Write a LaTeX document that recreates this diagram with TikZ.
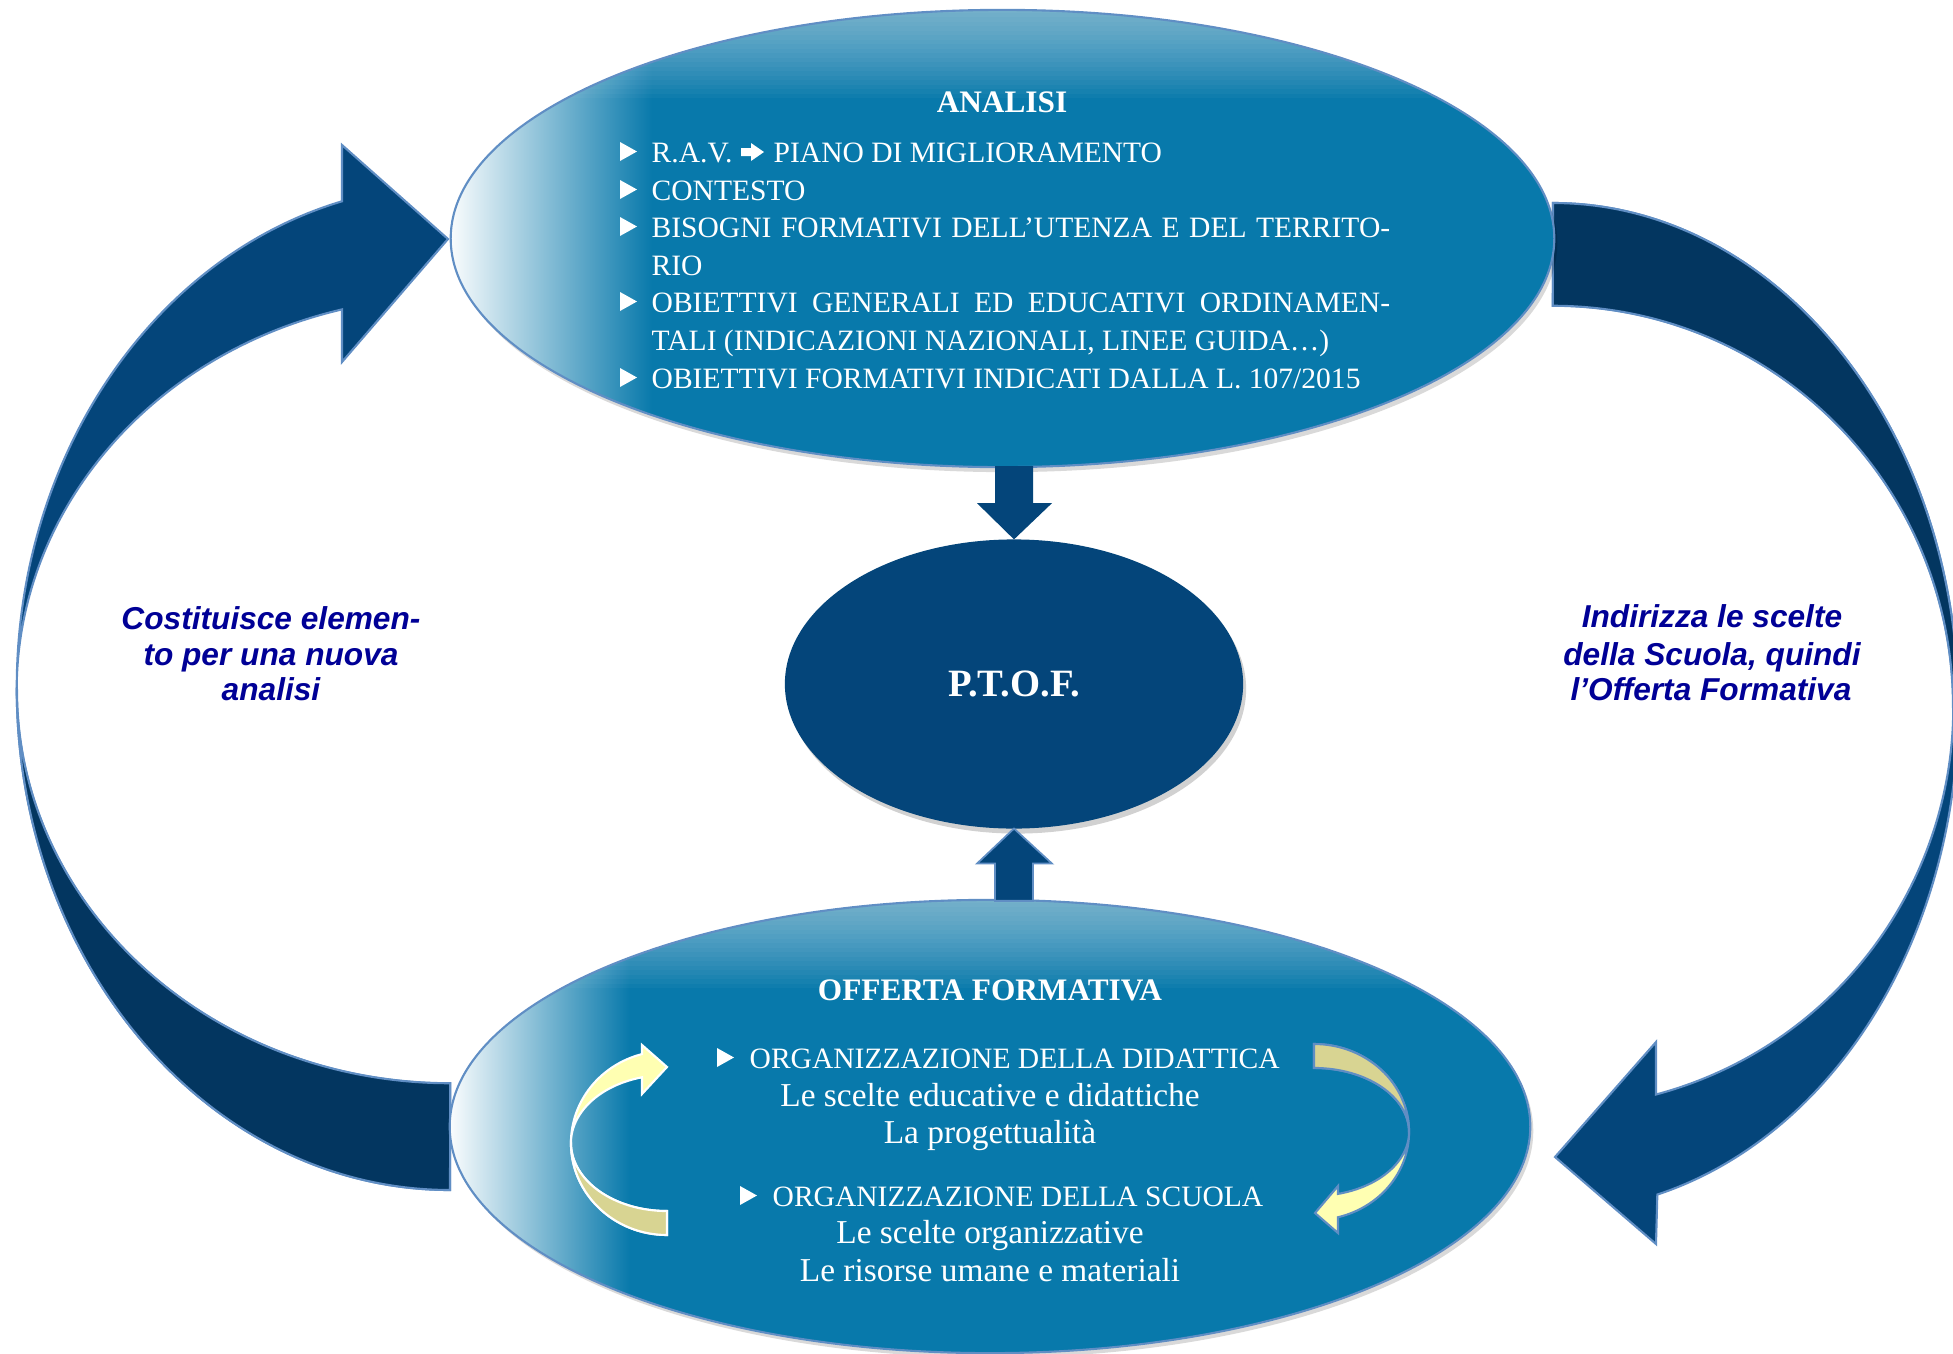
\documentclass[tikz,border=0pt]{standalone}
\usepackage{fontspec}
\setmainfont{Liberation Serif}
\newfontfamily\lblfont{Liberation Sans}
\usetikzlibrary{shapes.geometric,calc}

\definecolor{ellblue}{RGB}{8,121,171}
\definecolor{navy}{RGB}{4,69,122}
\definecolor{navydark}{RGB}{3,54,96}
\definecolor{edgeblue}{RGB}{96,142,196}
\definecolor{lblblue}{RGB}{0,0,150}
\definecolor{ylight}{RGB}{255,255,178}
\definecolor{khaki}{RGB}{216,212,146}

\newcommand\bultri[2]{\fill[white] (#1,#2-20) -- (#1+17,#2-10.5) -- (#1,#2-1) -- cycle;}

\begin{document}
\begin{tikzpicture}[x=0.01cm,y=-0.01cm,
  ell/.style={ellipse, inner sep=0pt, outer sep=0pt},
  edge/.style={draw=edgeblue, line width=0.6pt},
  txt/.style={text=white, inner sep=0pt, font=\fontsize{8.4}{10}\selectfont},
  ttl/.style={text=white, inner sep=0pt, font=\bfseries\fontsize{8.9}{10}\selectfont},
  low/.style={text=white, inner sep=0pt, font=\fontsize{9.5}{11}\selectfont},
  lbl/.style={text=lblblue, inner sep=0pt, font=\lblfont\bfseries\itshape\fontsize{9}{10}\selectfont}]

\useasboundingbox (0,0) rectangle (1953,1354);
% dummy shading (invisible, white on white)
\shade[top color=white, bottom color=white] (0,0) rectangle (2,2);

% ---- big left curved arrow
\filldraw[fill=navy, edge] (450,1190) arc[start angle=-90, end angle=-255.56, x radius=4.33cm, y radius=5.02cm]
  -- (342,145) -- (448,239) -- (342,362) -- (342,309.4)
  arc[start angle=-255.56, end angle=-90, x radius=4.33cm, y radius=3.93cm] -- cycle;
\filldraw[fill=navydark, edge] (450,1190) arc[start angle=-90, end angle=-180, x radius=4.33cm, y radius=5.02cm]
  -- (17,690) arc[start angle=-180, end angle=-90, x radius=4.33cm, y radius=3.93cm] -- cycle;

% ---- big right curved arrow
\filldraw[fill=navy, edge] (1553,203) arc[start angle=90, end angle=-75.08, x radius=4.05cm, y radius=5.04cm]
  -- (1656,1244) -- (1555,1157) -- (1656,1042) -- (1656,1094.5)
  arc[start angle=-75.08, end angle=90, x radius=4cm, y radius=4.01cm] -- cycle;
\filldraw[fill=navydark, edge] (1553,203) arc[start angle=90, end angle=0, x radius=4.05cm, y radius=5.04cm]
  -- (1953,707) arc[start angle=0, end angle=90, x radius=4cm, y radius=4.01cm] -- cycle;

% ---- shadows
\fill[black, opacity=.15] (1005.5,243.5) ellipse [x radius=5.515cm, y radius=2.285cm];
\fill[black, opacity=.18] (1017,689) ellipse [x radius=2.29cm, y radius=1.445cm];
\fill[black, opacity=.15] (993,1131) ellipse [x radius=5.40cm, y radius=2.265cm];

% ---- ellipses
\node[ell, minimum width=11.03cm, minimum height=4.57cm, fill=ellblue] (analisi) at (1002.5,238.5) {};
\begin{scope}
  \clip (analisi.center) ellipse [x radius=5.515cm, y radius=2.285cm];
  \shade[left color=white, right color=ellblue] (446,0) rectangle (652,480);
  \foreach \i in {1,...,20} {\fill[white, opacity=.03] (440,8) rectangle (1570,8+4.5*\i);}
\end{scope}
\draw[edge] (analisi.center) ellipse [x radius=5.515cm, y radius=2.285cm];

\node[ell, minimum width=4.58cm, minimum height=2.89cm, fill=navy, text=white,
      font=\bfseries\fontsize{11}{13}\selectfont] (ptof) at (1014,684) {P.T.O.F.};

\node[ell, minimum width=10.8cm, minimum height=4.53cm, fill=ellblue] (offerta) at (990,1126.5) {};
\begin{scope}
  \clip (offerta.center) ellipse [x radius=5.4cm, y radius=2.265cm];
  \shade[left color=white, right color=ellblue] (446,890) rectangle (630,1360);
  \foreach \i in {1,...,20} {\fill[white, opacity=.03] (440,898) rectangle (1540,898+4.5*\i);}
\end{scope}
\draw[edge] (offerta.center) ellipse [x radius=5.4cm, y radius=2.265cm];

% ---- straight block arrows
\coordinate (dtop) at (ptof.north |- analisi.south);
\fill[navy] ($(dtop)+(-19,-1)$) -- ($(dtop)+(-19,36)$) -- ($(dtop)+(-37,36)$) -- (ptof.north)
  -- ($(dtop)+(38,36)$) -- ($(dtop)+(19,36)$) -- ($(dtop)+(19,-1)$) -- cycle;
\coordinate (ubot) at (ptof.south |- offerta.north);
\filldraw[fill=navy, draw=edgeblue, line width=.5pt] (ptof.south) -- ($(ptof.south)+(38,35)$) -- ($(ptof.south)+(19,35)$)
  -- ($(ubot)+(19,1)$) -- ($(ubot)+(-19,1)$) -- ($(ptof.south)+(-19,35)$) -- ($(ptof.south)+(-37,35)$) -- cycle;

% ---- small yellow arrows
\filldraw[fill=ylight, draw=white, line width=.6pt] (667,1235) arc[start angle=-90, end angle=-254.9, x radius=.96cm, y radius=.92cm]
  -- (642,1045) -- (667,1067) -- (642,1094) -- (642,1077.3)
  arc[start angle=-254.9, end angle=-90, x radius=.96cm, y radius=.68cm] -- cycle;
\filldraw[fill=khaki, draw=white, line width=.6pt] (667,1235) arc[start angle=-90, end angle=-180, x radius=.96cm, y radius=.92cm]
  -- (571,1143) arc[start angle=-180, end angle=-90, x radius=.96cm, y radius=.68cm] -- cycle;

\filldraw[fill=ylight, edge] (1314,1044) arc[start angle=90, end angle=-75.37, x radius=.95cm, y radius=.88cm]
  -- (1338,1233) -- (1315,1213) -- (1338,1186) -- (1338,1193.9)
  arc[start angle=-75.37, end angle=90, x radius=.95cm, y radius=.64cm] -- cycle;
\filldraw[fill=khaki, edge] (1314,1044) arc[start angle=90, end angle=0, x radius=.95cm, y radius=.88cm]
  -- (1409,1132) arc[start angle=0, end angle=90, x radius=.95cm, y radius=.64cm] -- cycle;

% ---- ANALISI text
\node[ttl, anchor=base] (antitle) at (1002,112) {ANALISI};
\foreach \b in {162,200,237,312,388} {\bultri{620}{\b}}
\node[txt, anchor=base west] (a1) at (651,162) {R.A.V.};
\fill[white] (741,148) -- (751,148) -- (751,143) -- (764,152) -- (751,161) -- (751,156) -- (741,156) -- cycle;
\node[txt, anchor=base west] (a1b) at (773,162) {PIANO DI MIGLIORAMENTO};
\node[txt, anchor=base west] (a2) at (651,200) {CONTESTO};
\node[txt, anchor=base west] (a3) at (651,237) {\makebox[210pt][s]{BISOGNI FORMATIVI DELL’UTENZA E DEL TERRITO-}};
\node[txt, anchor=base west] (a4) at (651,275) {RIO};
\node[txt, anchor=base west] (a5) at (651,312) {\makebox[210pt][s]{OBIETTIVI GENERALI ED EDUCATIVI ORDINAMEN-}};
\node[txt, anchor=base west] (a6) at (651,350) {TALI (INDICAZIONI NAZIONALI, LINEE GUIDA…)};
\node[txt, anchor=base west] (a7) at (651,388) {OBIETTIVI FORMATIVI INDICATI DALLA L. 107/2015};

% ---- OFFERTA text
\node[ttl, anchor=base] (oftitle) at (990,1000) {OFFERTA FORMATIVA};
\bultri{717}{1068}
\node[txt, anchor=base west] (o1) at (749,1068) {ORGANIZZAZIONE DELLA DIDATTICA};
\node[low, anchor=base] (o2) at (990,1106) {Le scelte educative e didattiche};
\node[low, anchor=base] (o3) at (990,1143) {La progettualità};
\bultri{740}{1206}
\node[txt, anchor=base west] (o4) at (772,1206) {ORGANIZZAZIONE DELLA SCUOLA};
\node[low, anchor=base] (o5) at (990,1243) {Le scelte organizzative};
\node[low, anchor=base] (o6) at (990,1281) {Le risorse umane e materiali};

% ---- side labels
\node[lbl, anchor=base] (c1) at (271,629) {Costituisce elemen-};
\node[lbl, anchor=base] (c2) at (271,665) {to per una nuova};
\node[lbl, anchor=base] (c3) at (271,700) {analisi};
\node[lbl, anchor=base] (i1) at (1712,627) {Indirizza le scelte};
\node[lbl, anchor=base] (i2) at (1712,665) {della Scuola, quindi};
\node[lbl, anchor=base] (i3) at (1711,700) {l’Offerta Formativa};
\end{tikzpicture}
\end{document}
